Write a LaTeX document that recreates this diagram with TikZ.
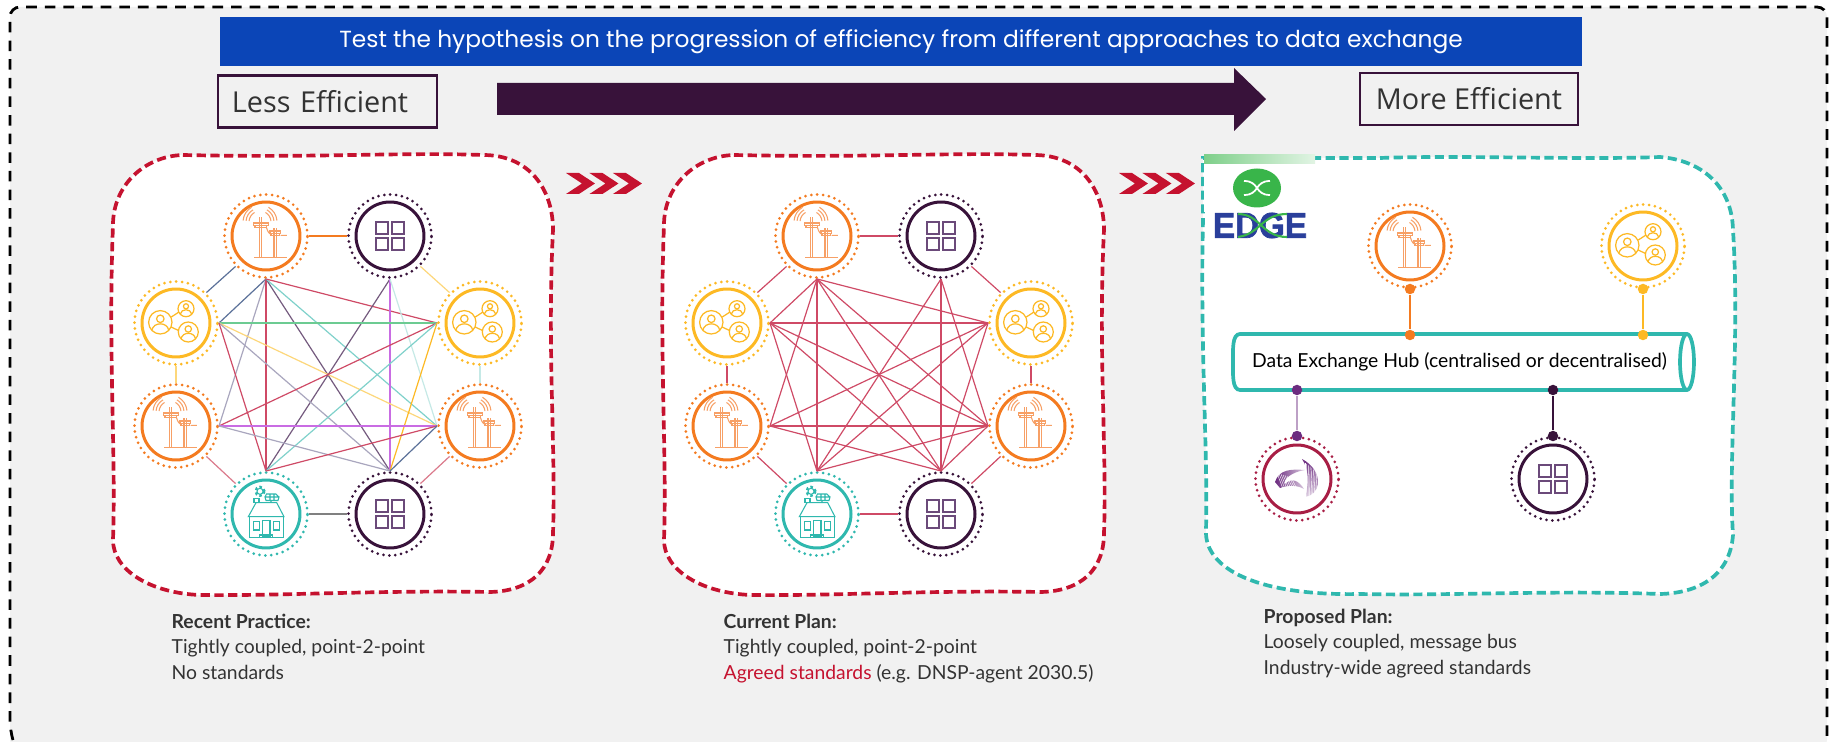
\documentclass[tikz,border=0pt]{standalone}
\usepackage{fontspec}
\usepackage{graphicx}
\usetikzlibrary{shapes.geometric}
\newfontfamily\titlefont{Poppins}
\newfontfamily\boxfont{Open Sans}
\newfontfamily\capfont{Lato}
\newfontfamily\logofont[BoldFeatures={FakeBold=2}]{Liberation Sans}
\definecolor{pagegrey}{HTML}{F1F1F1}
\definecolor{barblue}{HTML}{0B45B7}
\definecolor{darkplum}{HTML}{38123A}
\definecolor{softplum}{HTML}{6B4A7A}
\definecolor{gridred}{HTML}{C5122F}
\definecolor{meshred}{HTML}{CF4A66}
\definecolor{meshrose}{HTML}{DB7A8C}
\definecolor{hubteal}{HTML}{2FB8AE}
\definecolor{meshteal}{HTML}{7FD1CB}
\definecolor{paleteal}{HTML}{C5E9E6}
\definecolor{poleorange}{HTML}{F47B20}
\definecolor{paleorange}{HTML}{F7A066}
\definecolor{sunyellow}{HTML}{FDB924}
\definecolor{meshyellow}{HTML}{FDD77A}
\definecolor{meshnavy}{HTML}{5B7199}
\definecolor{meshgrey}{HTML}{A9A6BE}
\definecolor{meshplum}{HTML}{745A7E}
\definecolor{meshviolet}{HTML}{C96CE3}
\definecolor{meshgreen}{HTML}{6CCB92}
\definecolor{logogreen}{HTML}{39B54A}
\definecolor{logonavy}{HTML}{2A3F9B}
\definecolor{aemowine}{HTML}{A81E45}
\definecolor{aemoviolet}{HTML}{6C2C80}
\definecolor{textgrey}{HTML}{333333}
\tikzset{
  panelbox/.style={fill=white,draw=#1,line width=1.05pt,dash pattern=on 2.6pt off 1.3pt},
  dotring/.style={circle,draw=#1,line width=.85pt,line cap=round,dash pattern=on 0pt off 1.68pt,minimum size=.83cm,inner sep=0pt},
  solidring/.style={circle,draw=#1,line width=.85pt,minimum size=.68cm,inner sep=0pt},
  meshline/.style={line width=.34pt},
  effbox/.style={draw=darkplum,line width=.8pt,fill=pagegrey,minimum height=.52cm,inner sep=0pt,text=textgrey,font=\boxfont\fontsize{8.2}{10}\selectfont},
  hubdot/.style={circle,fill=#1,inner sep=0pt,minimum size=.105cm},
  capnote/.style={anchor=north west,align=left,inner sep=0pt,text=textgrey,font=\capfont\fontsize{5.5}{7.25}\selectfont},
  pics/poles/.style={code={
    \begin{scope}[scale=.01,yscale=-1,draw=paleorange,line width=.3pt]
      \draw (-11.7,21.7) -- (20.7,21.7);
      \draw (-6.7,-19) -- (-6.7,21.7) (-4.3,-19) -- (-4.3,21.7);
      \draw (8,-8) -- (8,21.7) (10.7,-8) -- (10.7,21.7);
      \draw (-12.7,-13) rectangle (2.3,-10.3);
      \draw (-11,-10.3) rectangle (.5,-8.3);
      \draw (4,-5) rectangle (14.7,-2.5);
      \draw (5,-2.5) rectangle (13.7,-.7);
      \draw (14.7,-.7) -- (21,-.7) (.5,-8.3) .. controls (2,-3) and (4,-2) .. (5,-1.5);
      \foreach \r in {11,14,17} {
        \draw ([shift={(185:\r)}]-6,-14) arc[start angle=185,end angle=240,radius=\r];
        \draw ([shift={(300:\r)}]-6,-14) arc[start angle=300,end angle=355,radius=\r];
      }
    \end{scope}
  }},
  pics/tiles/.style={code={
    \begin{scope}[scale=.01,yscale=-1,draw=softplum,line width=.45pt]
      \foreach \x in {-14,2} \foreach \y in {-14,2}
        \draw (\x,\y) rectangle ++(12,12);
    \end{scope}
  }},
  pics/people/.style={code={
    \begin{scope}[scale=.01,yscale=-1,draw=sunyellow,line width=.35pt]
      \draw (-4.7,-6) -- (3,-11) (-4.7,4) -- (2,7.3);
      \foreach \x/\y/\r in {-15.7/-.7/11.7,10/-14.3/8,12.3/9/10} {
        \begin{scope}[shift={(\x,\y)},scale=\r]
          \draw (0,0) circle (1);
          \draw (0,-.3) circle (.32);
          \draw (-.72,.68) .. controls (-.6,-.05) and (.6,-.05) .. (.72,.68);
        \end{scope}
      }
    \end{scope}
  }},
  pics/house/.style={code={
    \begin{scope}[scale=.01,yscale=-1,draw=hubteal,line width=.3pt]
      \draw (-16.7,2.7) rectangle (17.3,23.3);
      \draw (-17.7,2.7) -- (-10,-11.3) -- (10.7,-11.3) -- (18,2.7) -- cycle;
      \draw (-3.3,22.7) rectangle (4,6.7);
      \draw (-12.7,7.7) rectangle (-6.7,16) (7.3,7.7) rectangle (13.3,16);
      \draw (-6.7,21) rectangle (6.7,23.3);
      \draw (-12,-11.3) rectangle (-7,-15.7) (-13,-15.7) -- (-6,-15.7);
      \draw (0,-13.5) -- (12,-13.5) -- (13,-17) -- (-1,-17) -- cycle (-1,-17) -- (0.5,-20) -- (10,-20) -- (13,-17) (4,-20) -- (4,-13.5) (8,-20) -- (8,-13.5) (5,-13.5) -- (5,-11.3);
      \draw (-6,-22.7) circle (3);
      \draw[dash pattern=on .7pt off .7pt,line width=.7pt] (-6,-22.7) circle (4.4);
    \end{scope}
  }},
  pics/swoosh/.style={code={
    \begin{scope}[scale=.01,yscale=-1]
      \shade[left color=aemoviolet,right color=aemoviolet!25] (-22,3) .. controls (-18,-10) and (-5,-10) .. (8,-9) .. controls (-5,-7) and (-14,0) .. (-12,5) .. controls (-5,-2) and (2,2) .. (7,10) .. controls (0,6) and (-8,6) .. (-17,9) -- cycle;
      \shade[top color=aemoviolet,bottom color=aemoviolet!25] (5,-20) .. controls (15,-15) and (22,-5) .. (21,5) .. controls (20,12) and (15,17) .. (8,18) .. controls (12,5) and (12,-10) .. (5,-20);
      \foreach \k in {0,...,7}
        \draw[white,line width=.12pt] (-20+\k*2,-6+\k*.6) -- (-14+\k*2,10);
      \foreach \k in {0,...,7}
        \draw[white,line width=.12pt] (8+\k*1.5,20) -- (8+\k*1.7,-16+\k*1.2);
    \end{scope}
  }},
  pics/chevrons/.style={code={
    \begin{scope}[scale=.01,yscale=-1]
      \foreach \x in {0,23.5,47}
        \fill[gridred] (\x,0) -- ++(13,0) -- ++(16,10.5) -- ++(-16,10.5) -- ++(-13,0) -- ++(16,-10.5) -- cycle;
    \end{scope}
  }}
}
% ring, inner ring and icon of one station
\newcommand{\station}[5]{
  \node[dotring=#3] (#1) at (#2) {};
  \node[solidring=#4] (#1in) at (#2) {};
  \pic at (#2) {#5};
}
\newcommand{\meshstations}[1]{
  \station{#1pa}{2.66,-2.36}{poleorange}{poleorange}{poles}
  \station{#1ta}{3.90,-2.36}{darkplum}{darkplum}{tiles}
  \station{#1uh}{1.76,-3.23}{sunyellow}{sunyellow}{people}
  \station{#1uc}{4.80,-3.23}{sunyellow}{sunyellow}{people}
  \station{#1pg}{1.76,-4.26}{poleorange}{poleorange}{poles}
  \station{#1pd}{4.80,-4.26}{poleorange}{poleorange}{poles}
  \station{#1hf}{2.66,-5.14}{hubteal}{hubteal}{house}
  \station{#1te}{3.90,-5.14}{darkplum}{darkplum}{tiles}
}
\newcommand{\meshpanel}{
  (1.83,-1.55) .. controls (3.2,-1.58) and (4.0,-1.52) .. (4.83,-1.55)
  .. controls (5.3,-1.55) and (5.53,-1.9) .. (5.53,-2.3)
  .. controls (5.47,-3.5) and (5.56,-4.5) .. (5.53,-5.33)
  .. controls (5.53,-5.7) and (5.3,-5.91) .. (4.9,-5.92)
  .. controls (3.8,-5.9) and (2.8,-5.96) .. (2.0,-5.95)
  .. controls (1.5,-5.93) and (1.13,-5.7) .. (1.13,-5.4)
  .. controls (1.16,-4.5) and (1.08,-3.5) .. (1.13,-2.25)
  .. controls (1.13,-1.85) and (1.45,-1.56) .. (1.83,-1.55) -- cycle
}
\begin{document}
\begin{tikzpicture}
\useasboundingbox (0,0) rectangle (18.29,-7.42);
% grey page with a frame open at the bottom
\fill[pagegrey,rounded corners=.1cm] (0.10,-7.5) -- (0.10,-0.07) -- (18.27,-0.07) -- (18.27,-7.5) -- cycle;
\draw[line width=.8pt,dash pattern=on 3pt off 2.3pt,rounded corners=.1cm] (0.13,-7.40) -- (0.10,-7.3) -- (0.10,-0.07) -- (18.27,-0.07) -- (18.27,-7.36);

\node[fill=barblue,minimum width=13.62cm,minimum height=.49cm,inner sep=0pt,text=white,font=\titlefont\fontsize{6.63}{9}\selectfont] (titlebar) at (9.01,-.415) {Test the hypothesis on the progression of efficiency from different approaches to data exchange};
\node[effbox,text width=1.91cm,inner xsep=.14cm,align=left] (lessbox) at (3.275,-1.015) {Less Efficient};
\node[effbox,minimum width=2.18cm] (morebox) at (14.69,-.99) {More Efficient};
\fill[darkplum] (4.97,-.83) -- (12.34,-.83) -- (12.34,-.68) -- (12.66,-.99) -- (12.34,-1.31) -- (12.34,-1.15) -- (4.97,-1.15) -- cycle;

\pic at (5.66,-1.73) {chevrons};
\pic at (11.19,-1.73) {chevrons};

% no standards
\draw[panelbox=gridred] \meshpanel;
\meshstations{m}
\foreach \s/\t/\c in {pa.east/ta.west/poleorange,uh.north east/pa.south west/meshnavy,
  ta.south east/uc.north west/meshyellow,uh.south/pg.north/meshyellow,uc.south/pd.north/paleteal,
  pg.south east/hf.north west/meshrose,pd.south west/te.north east/meshrose,hf.east/te.west/gray,
  pa.south/uh.east/meshnavy,pa.south/pg.east/meshgrey,pa.south/hf.north/meshred,pa.south/te.north/meshplum,
  pa.south/pd.west/meshteal,pa.south/uc.west/meshred,ta.south/hf.north/meshplum,ta.south/te.north/meshviolet,
  ta.south/pd.west/paleteal,uh.east/uc.west/meshgreen,uh.east/pd.west/meshyellow,uh.east/te.north/meshgrey,
  uh.east/hf.north/meshred,uc.west/pg.east/meshred,uc.west/hf.north/meshteal,uc.west/te.north/sunyellow,
  pg.east/pd.west/meshviolet,pg.east/te.north/meshgrey,pd.west/hf.north/meshred,pd.west/te.north/meshnavy}
  \draw[meshline,\c] (m\s) -- (m\t);

% agreed standards
\begin{scope}[xshift=5.51cm]
\draw[panelbox=gridred] \meshpanel;
\meshstations{n}
\foreach \s/\t in {pa.east/ta.west,uh.north east/pa.south west,ta.south east/uc.north west,uh.south/pg.north,
  uc.south/pd.north,pg.south east/hf.north west,pd.south west/te.north east,hf.east/te.west,
  pa.south/uh.east,pa.south/pg.east,pa.south/hf.north,pa.south/te.north,pa.south/pd.west,pa.south/uc.west,
  ta.south/hf.north,ta.south/te.north,ta.south/pd.west,uh.east/uc.west,uh.east/pd.west,uh.east/te.north,
  uh.east/hf.north,uc.west/pg.east,uc.west/hf.north,uc.west/te.north,pg.east/pd.west,pg.east/te.north,
  pd.west/hf.north,pd.west/te.north}
  \draw[meshline,meshred] (n\s) -- (n\t);
\end{scope}

% message bus
\draw[panelbox=hubteal] (13.8,-1.58) .. controls (14.6,-1.55) and (15.8,-1.6) .. (16.6,-1.57)
  .. controls (17.0,-1.6) and (17.32,-1.85) .. (17.33,-2.3)
  .. controls (17.40,-3.4) and (17.28,-4.6) .. (17.33,-5.35)
  .. controls (17.3,-5.75) and (17.0,-5.93) .. (16.6,-5.94)
  .. controls (15.5,-5.9) and (14.5,-5.96) .. (13.6,-5.94)
  .. controls (12.6,-5.96) and (12.04,-5.7) .. (12.06,-5.3)
  .. controls (12.08,-4.5) and (12.0,-3.5) .. (12.03,-2.2) -- (12.03,-1.58) -- cycle;
\fill[white] (12.04,-1.55) rectangle (13.15,-2.12);
\shade[left color=logogreen!65,right color=logogreen!15] (12.04,-1.55) rectangle (13.15,-1.64);
\node[ellipse,fill=logogreen,minimum width=.48cm,minimum height=.39cm,inner sep=0pt] (edgemark) at (12.57,-1.88) {};
\draw[white,line width=.5pt] (12.44,-1.81) .. controls (12.60,-1.81) and (12.54,-1.95) .. (12.70,-1.95)
  (12.44,-1.95) .. controls (12.60,-1.95) and (12.54,-1.81) .. (12.70,-1.81);
\node[text=logonavy,inner sep=0pt,font=\logofont\bfseries\fontsize{9.5}{10}\selectfont] (edgeword) at (12.60,-2.255) {\resizebox{.94cm}{.25cm}{EDGE}};
\draw[logogreen,line width=.6pt] (12.38,-2.37) .. controls (12.60,-2.34) and (12.62,-2.14) .. (12.87,-2.14)
  (12.38,-2.14) .. controls (12.60,-2.14) and (12.62,-2.37) .. (12.87,-2.37);

\draw[hubteal,line width=1.05pt,fill=white] (16.87,-3.34) -- (12.40,-3.34) .. controls (12.32,-3.34) and (12.33,-3.50) .. (12.33,-3.62)
  .. controls (12.33,-3.74) and (12.32,-3.90) .. (12.40,-3.90) -- (16.87,-3.90);
\draw[hubteal,line width=1.05pt,fill=white] (16.87,-3.62) ellipse (.07 and .28);
\node[inner sep=0pt,text=black,font=\capfont\fontsize{5.5}{7}\selectfont] (hublabel) at (14.595,-3.62) {Data Exchange Hub (centralised or decentralised)};

\station{bp}{14.10,-2.46}{poleorange}{poleorange}{poles}
\station{bu}{16.43,-2.46}{sunyellow}{sunyellow}{people}
\station{ba}{12.97,-4.79}{aemowine}{aemowine}{swoosh}
\station{bt}{15.53,-4.79}{darkplum}{darkplum}{tiles}
\foreach \n/\x/\y/\z/\c/\l in {p/14.10/-2.89/-3.35/poleorange/poleorange,u/16.43/-2.89/-3.35/sunyellow/sunyellow,
  a/12.97/-4.36/-3.90/aemoviolet/aemoviolet!45,t/15.53/-4.36/-3.90/darkplum/darkplum} {
  \node[hubdot=\c] (ring\n) at (\x,\y) {};
  \node[hubdot=\c] (bus\n) at (\x,\z) {};
  \draw[\l,line width=.45pt] (ring\n) -- (bus\n);
}

\node[capnote] (recentnote) at (1.71,-6.13) {{\bfseries Recent Practice:}\\Tightly coupled, point-2-point\\No standards};
\node[capnote] (currentnote) at (7.23,-6.13) {{\bfseries Current Plan:}\\Tightly coupled, point-2-point\\\textcolor{gridred}{Agreed standards} (e.g. DNSP-agent 2030.5)};
\node[capnote] (proposednote) at (12.63,-6.08) {{\bfseries Proposed Plan:}\\Loosely coupled, message bus\\Industry-wide agreed standards};
\end{tikzpicture}
\end{document}
